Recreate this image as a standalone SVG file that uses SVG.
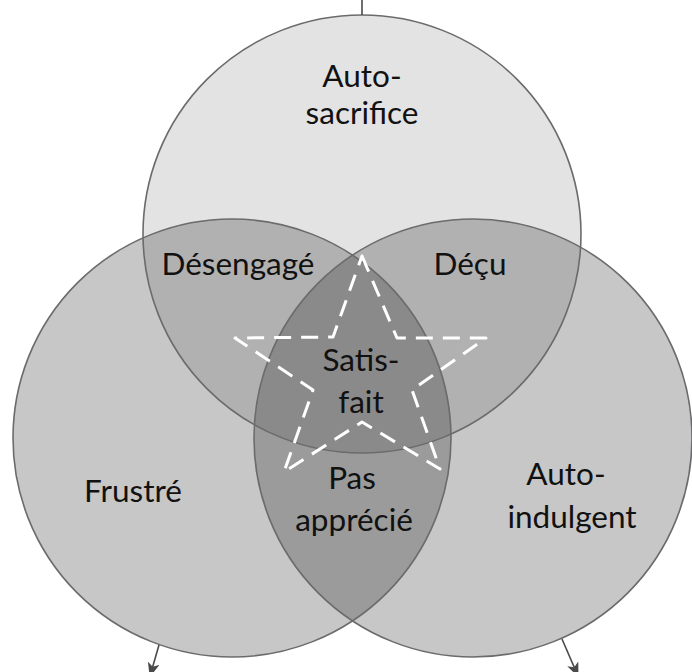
<svg xmlns="http://www.w3.org/2000/svg" width="692" height="672" viewBox="0 0 692 672">
  <defs>
    <style>
      .fill-top { fill: #000; fill-opacity: 0.11; }
      .fill-side { fill: #000; fill-opacity: 0.22; }
      .ring { fill: none; stroke: #6b6b6d; stroke-width: 1.6; }
      .lbl { font-family: Lato, "Open Sans", "Liberation Sans", sans-serif; font-size: 31.5px; fill: #111; text-anchor: middle; }
      .conn { stroke: #4a4a4a; stroke-width: 1.6; fill: none; }
      .star { fill: none; stroke: #fff; stroke-width: 3; stroke-dasharray: 17 10; stroke-linejoin: round; }
    </style>
    <marker id="arr" viewBox="0 0 12 10" refX="11" refY="5" markerWidth="15" markerHeight="12" orient="auto" markerUnits="userSpaceOnUse">
      <path d="M0,0 L12,5 L0,10 L3,5 Z" fill="#4a4a4a"/>
    </marker>
  </defs>
  <rect width="692" height="672" fill="#fff"/>

  <!-- fills -->
  <g id="node-autosacrifice-fill"><circle class="fill-top" cx="362" cy="234" r="219"/></g>
  <g id="node-frustre-fill"><circle class="fill-side" cx="232" cy="438" r="219"/></g>
  <g id="node-autoindulgent-fill"><circle class="fill-side" cx="473" cy="438" r="219"/></g>

  <!-- outlines -->
  <g id="node-autosacrifice"><circle class="ring" cx="362" cy="234" r="219"/></g>
  <g id="node-frustre"><circle class="ring" cx="232" cy="438" r="219"/></g>
  <g id="node-autoindulgent"><circle class="ring" cx="473" cy="438" r="219"/></g>

  <!-- star -->
  <g id="node-star">
    <polygon class="star" points="362,256 397,338 486,338 412,390 440,469 362,422 284,472 313,390 235,338 333,337"/>
  </g>

  <!-- connectors -->
  <g id="connectors">
    <line class="conn" x1="362" y1="0" x2="362" y2="15"/>
    <line class="conn" x1="159" y1="645" x2="150" y2="676" marker-end="url(#arr)"/>
    <line class="conn" x1="562" y1="639" x2="578" y2="676" marker-end="url(#arr)"/>
  </g>

  <!-- labels -->
  <g id="labels">
    <text class="lbl" x="362" y="87">Auto-</text>
    <text class="lbl" x="362" y="124">sacrifice</text>
    <text class="lbl" x="238" y="275">Désengagé</text>
    <text class="lbl" x="470" y="275">Déçu</text>
    <text class="lbl" x="361" y="371">Satis-</text>
    <text class="lbl" x="361" y="413">fait</text>
    <text class="lbl" x="352" y="489">Pas</text>
    <text class="lbl" x="354" y="531">apprécié</text>
    <text class="lbl" x="133" y="502">Frustré</text>
    <text class="lbl" x="566" y="485">Auto-</text>
    <text class="lbl" x="572" y="528">indulgent</text>
  </g>
</svg>
